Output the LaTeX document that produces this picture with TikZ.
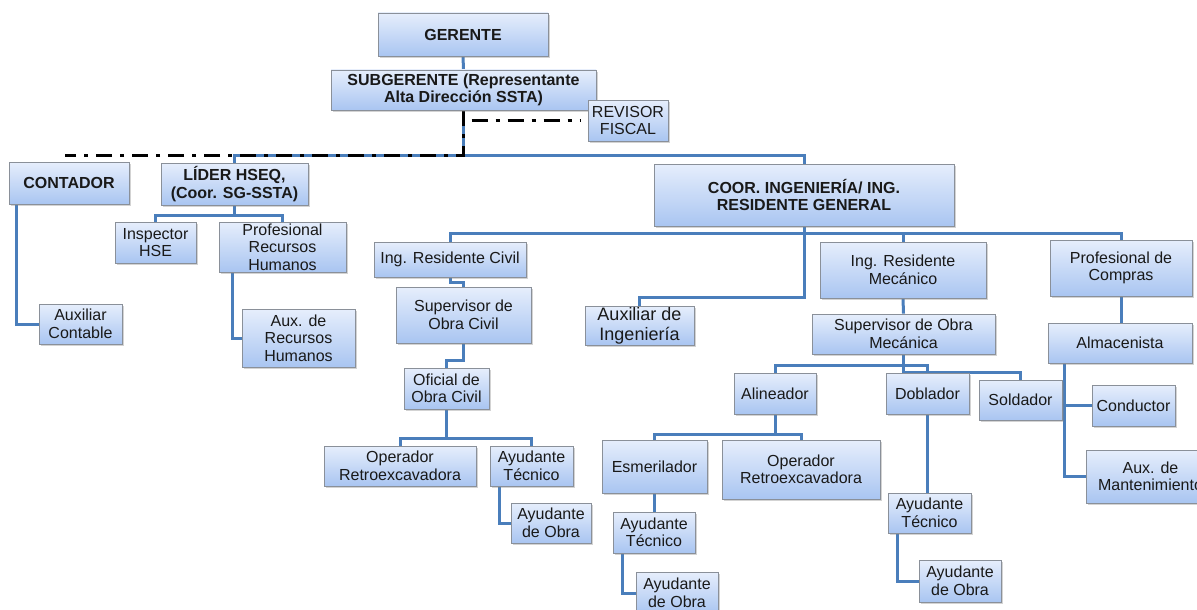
\documentclass[tikz,border=0pt]{standalone}
\usepackage{fontspec}
\setmainfont{Liberation Sans}
\usetikzlibrary{shadows,backgrounds}
\definecolor{boxtop}{HTML}{E6EEFC}
\definecolor{boxbot}{HTML}{A9C5F1}
\definecolor{boxline}{HTML}{8A9099}
\definecolor{connblue}{HTML}{4A7EBB}
\tikzset{
  box/.style={draw=boxline, line width=0.8pt, top color=boxtop, bottom color=boxbot,
    drop shadow={opacity=0.35, shadow xshift=2pt, shadow yshift=-2pt},
    align=center, inner sep=0pt, text=black!90,
    font=\fontsize{16}{17.5}\selectfont},
  hd/.style={font=\fontsize{16}{17.5}\selectfont\bfseries},
  big/.style={font=\fontsize{18}{20}\selectfont},
  conn/.style={draw=connblue, line width=3pt},
  dd/.style={draw=black, line width=3pt, dash pattern=on 16pt off 8pt on 4pt off 8pt},
}
% #1 options, #2 name, #3 x1, #4 y1, #5 x2, #6 y2, #7 text
\newcommand\mybox[7][]{\node[box,#1,minimum width={(#5-#3)*1pt},minimum height={(#6-#4)*1pt}] (#2) at ({(#3+#5)/2},{(#4+#6)/2}) {#7};}
\begin{document}
\begin{tikzpicture}[x=1pt,y=-1pt]
\useasboundingbox (0,0) rectangle (1197,610);
\clip (0,0) rectangle (1197,610);
% boxes
\mybox[hd]{ger}{378}{13}{548}{56}{GERENTE}
\mybox[hd]{sub}{331}{70}{596}{110}{SUBGERENTE (Representante\\Alta Dirección SSTA)}
\mybox{rev}{588}{100}{668}{141}{REVISOR\\FISCAL}
\mybox[hd]{cont}{9}{162}{129}{204}{CONTADOR}
\mybox[hd]{lider}{161}{163}{308}{205}{LÍDER HSEQ,\\(Coor. SG-SSTA)}
\mybox[hd]{coor}{654}{164}{954}{226}{COOR. INGENIERÍA/ ING.\\RESIDENTE GENERAL}
\mybox{insp}{115}{222}{196}{263}{Inspector\\HSE}
\mybox{prh}{219}{222}{346}{272}{Profesional\\Recursos\\Humanos}
\mybox{auxc}{39}{304}{122}{344}{Auxiliar\\Contable}
\mybox{auxrh}{242}{309}{355}{367}{Aux. de\\Recursos\\Humanos}
\mybox{irc}{374}{242}{526}{277}{Ing. Residente Civil}
\mybox{soc}{396}{287}{531}{343}{Supervisor de\\Obra Civil}
\mybox[big]{auxing}{585}{306}{694}{345}{Auxiliar de\\Ingeniería}
\mybox{irm}{820}{242}{986}{298}{Ing. Residente\\Mecánico}
\mybox{pc}{1050}{240}{1192}{296}{Profesional de\\Compras}
\mybox{som}{812}{314}{995}{354}{Supervisor de Obra\\Mecánica}
\mybox{alm}{1048}{323}{1192}{363}{Almacenista}
\mybox{ofc}{404}{368}{489}{409}{Oficial de\\Obra Civil}
\mybox{alin}{734}{373}{816}{414}{Alineador}
\mybox{dobl}{886}{373}{969}{414}{Doblador}
\mybox{sold}{979}{380}{1062}{420}{Soldador}
\mybox{cond}{1092}{385}{1175}{426}{Conductor}
\mybox{orc}{324}{446}{476}{486}{Operador\\Retroexcavadora}
\mybox{atc}{490}{446}{573}{486}{Ayudante\\Técnico}
\mybox{esm}{602}{440}{707}{493}{Esmerilador}
\mybox{orm}{722}{440}{880}{499}{Operador\\Retroexcavadora}
\mybox{amant}{1086}{450}{1215}{503}{Aux. de\\Mantenimiento}
\mybox{aoc}{511}{503}{591}{543}{Ayudante\\de Obra}
\mybox{atm1}{613}{512}{695}{553}{Ayudante\\Técnico}
\mybox{atm2}{888}{493}{971}{533}{Ayudante\\Técnico}
\mybox{aom1}{636}{572}{718}{614}{Ayudante\\de Obra}
\mybox{aom2}{919}{560}{1001}{602}{Ayudante\\de Obra}
% connectors
\begin{pgfonlayer}{background}
\draw[conn] (ger.south) -- (sub.north);
\draw[conn] (sub.south) -- (sub.south |- 0,155);
\draw[conn] (lider.north) -- (lider.north |- 0,155) -- (coor.north |- 0,155) -- (coor.north);
\draw[conn] (lider.south) -- (lider.south |- 0,215);
\draw[conn] (insp.north) -- (insp.north |- 0,215) -| (prh.north);
\draw[conn] (16,0 |- cont.south) |- (auxc.west);
\draw[conn] (232,0 |- prh.south) |- (auxrh.west);
\draw[conn] (coor.south) -- (coor.south |- 0,297) -| (auxing.north);
\draw[conn] (irc.north) -- (irc.north |- 0,233) -- (pc.north |- 0,233) -- (pc.north);
\draw[conn] (irm.north) -- (irm.north |- 0,233);
\draw[conn] (irc.south) -- ++(0,5) -| (soc.north);
\draw[conn] (soc.south) -- ++(0,17) -| (ofc.north);
\draw[conn] (ofc.south) -- (ofc.south |- 0,438);
\draw[conn] (orc.north) -- (orc.north |- 0,438) -| (atc.north);
\draw[conn] (499,0 |- atc.south) |- (aoc.west);
\draw[conn] (irm.south) -- (som.north);
\draw[conn] (som.south) -- (som.south |- 0,372) -| (sold.north);
\draw[conn] (alin.north) -- (alin.north |- 0,365) -| (dobl.north);
\draw[conn] (alin.south) -- (alin.south |- 0,434);
\draw[conn] (esm.north) -- (esm.north |- 0,434) -| (orm.north);
\draw[conn] (esm.south) -- (esm.south |- atm1.north);
\draw[conn] (622,0 |- atm1.south) |- (aom1.west);
\draw[conn] (dobl.south) -- (dobl.south |- atm2.north);
\draw[conn] (897,0 |- atm2.south) |- (aom2.west);
\draw[conn] (pc.south) -- (pc.south |- alm.north);
\draw[conn] (1064,0 |- alm.south) |- (amant.west);
\draw[conn] (1064,0 |- cond.west) -- (cond.west);
\draw[dd] (sub.south) -- (sub.south |- 0,155) -- (65,155);
\draw[dd, shorten <=8pt, shorten >=8pt] (sub.south |- rev.west) -- (rev.west);
\end{pgfonlayer}
\end{tikzpicture}
\end{document}
